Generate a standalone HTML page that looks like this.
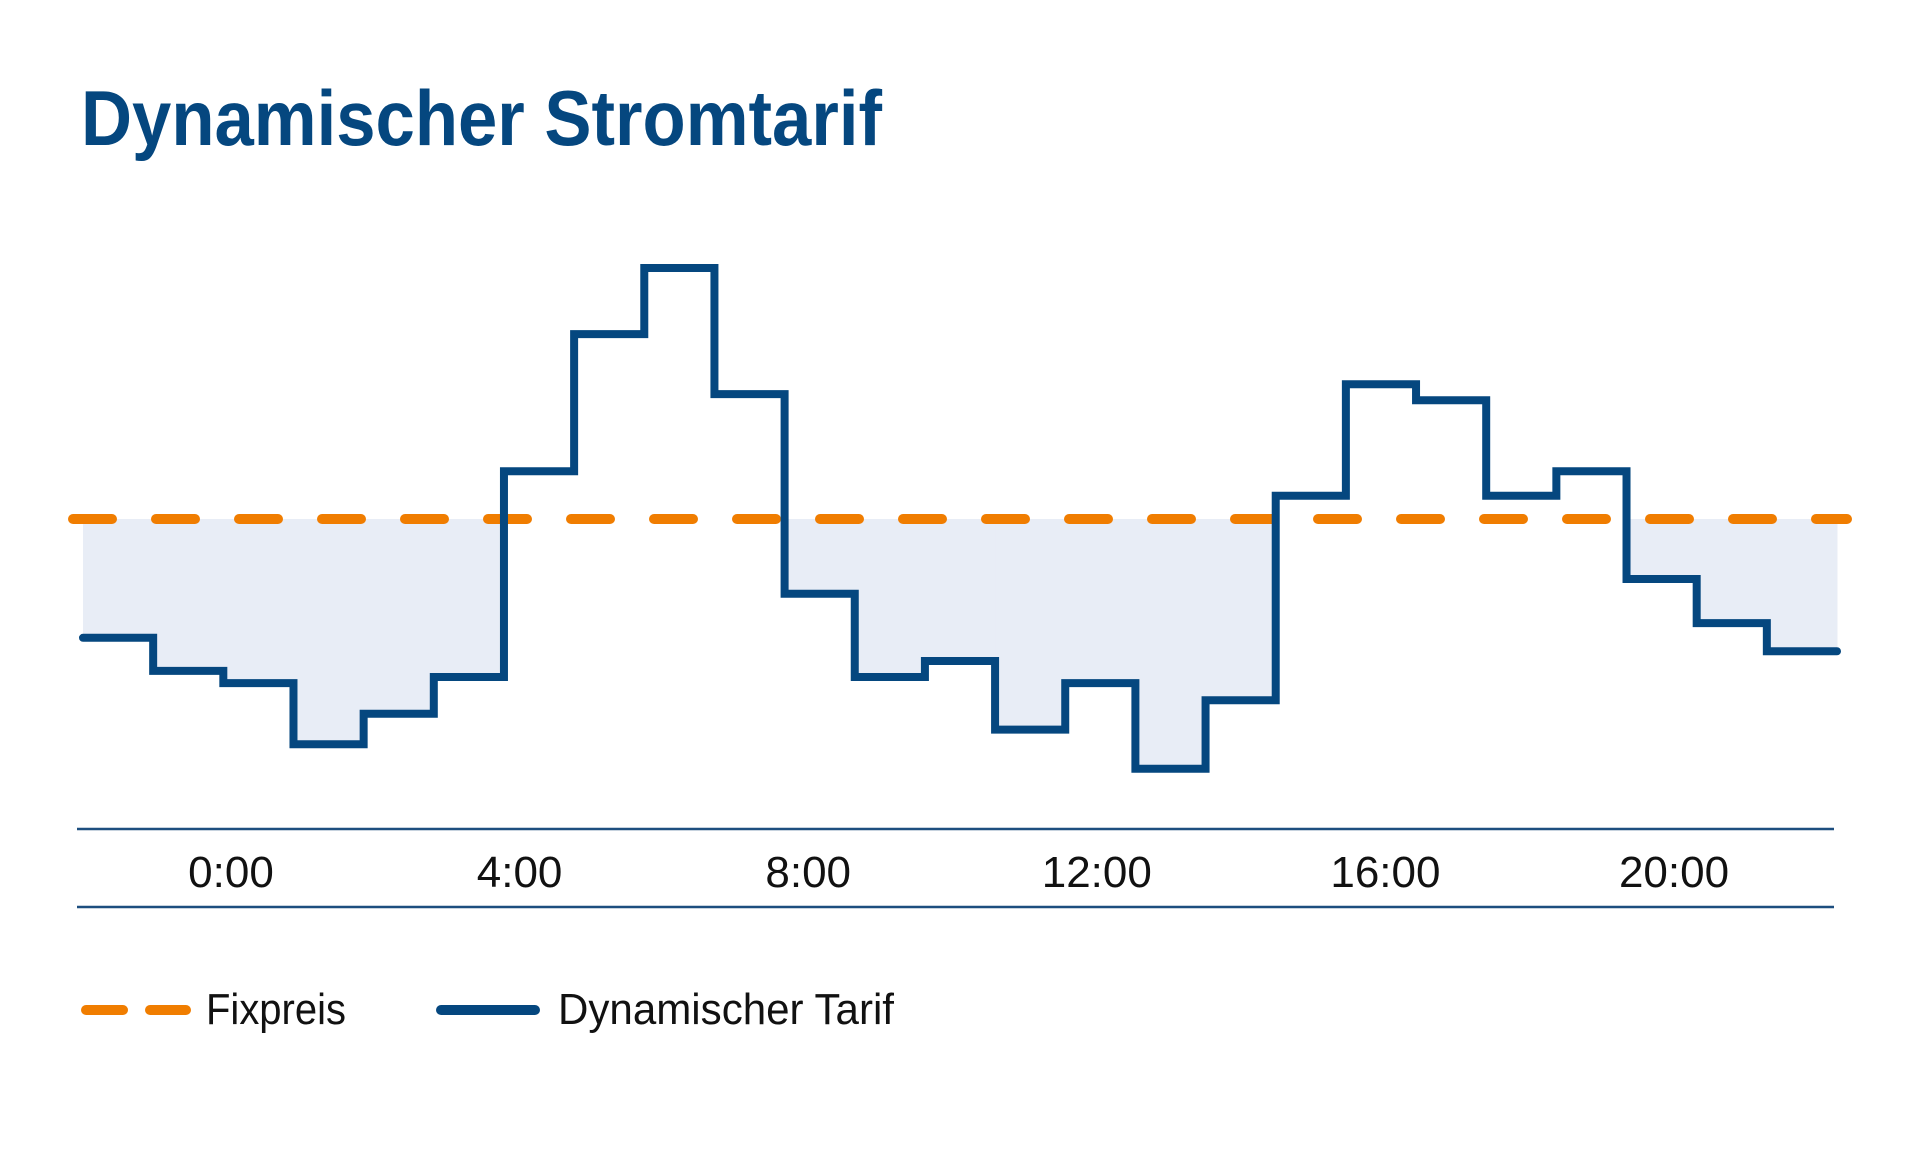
<!DOCTYPE html>
<html><head><meta charset="utf-8"><title>Dynamischer Stromtarif</title>
<style>
html,body{margin:0;padding:0;background:#fff;}
svg{display:block;}
text{font-family:"Liberation Sans",sans-serif;}
</style></head>
<body>
<svg id="chart" width="1920" height="1164" viewBox="0 0 1920 1164" xmlns="http://www.w3.org/2000/svg">
  <text x="81" y="145" font-size="78" font-weight="bold" fill="#05477f" textLength="801" lengthAdjust="spacingAndGlyphs">Dynamischer Stromtarif</text>
  <g id="fill-layer"></g>
  <g id="line-layer"></g>
  <line x1="77" y1="829" x2="1834" y2="829" stroke="#1d4e7f" stroke-width="2.5"/>
  <line x1="77" y1="907" x2="1834" y2="907" stroke="#1d4e7f" stroke-width="2.5"/>
  <g id="tick-layer"></g>
  <g>
    <g>
      <line x1="86" y1="1010" x2="186" y2="1010" stroke="#f07d00" stroke-width="10" stroke-linecap="round" stroke-dasharray="37,27"/>
      <text x="206" y="1024" font-size="44" fill="#111" textLength="140" lengthAdjust="spacingAndGlyphs">Fixpreis</text>
    </g>
    <g>
      <line x1="441" y1="1010" x2="535" y2="1010" stroke="#05477f" stroke-width="10" stroke-linecap="round"/>
      <text x="558" y="1024" font-size="44" fill="#111" textLength="336" lengthAdjust="spacingAndGlyphs">Dynamischer Tarif</text>
    </g>
  </g>
</svg>
<script>
const tariffValues = [20.3,17.6,16.6,11.6,14.1,17.1,33.9,45.1,50.5,40.2,23.9,17.1,18.4,12.8,16.6,9.6,15.2,31.9,41.0,39.7,31.9,33.9,25.1,21.5,19.2];
const fixedPrice = [30];
const tickHours = [0,4,8,12,16,20];
const tickLabels = ["0:00","4:00","8:00","12:00","16:00","20:00"];

const NS = "http://www.w3.org/2000/svg";
const X0 = 83, X1 = 1837;
const yScale = v => 519 - (v - 30) * 12.245;
const xStep = i => X0 + (X1 - X0) * i / tariffValues.length;
const xHour = h => 231 + (1674 - 231) * h / 20;

const fillLayer = document.getElementById('fill-layer');
const lineLayer = document.getElementById('line-layer');
const tickLayer = document.getElementById('tick-layer');
const fy = yScale(fixedPrice[0]);

tariffValues.forEach((v, i) => {
  const y = yScale(v);
  if (y > fy) {
    const r = document.createElementNS(NS, 'rect');
    r.setAttribute('x', xStep(i));
    r.setAttribute('y', fy);
    r.setAttribute('width', xStep(i + 1) - xStep(i) + 0.5);
    r.setAttribute('height', y - fy);
    r.setAttribute('fill', '#e8edf6');
    
    
    fillLayer.appendChild(r);
  }
});

const fixedLine = document.createElementNS(NS, 'line');
fixedLine.setAttribute('x1', X0 - 10);
fixedLine.setAttribute('x2', X1 + 10);
fixedLine.setAttribute('y1', fy);
fixedLine.setAttribute('y2', fy);
fixedLine.setAttribute('stroke', '#f07d00');
fixedLine.setAttribute('stroke-width', '10');
fixedLine.setAttribute('stroke-linecap', 'round');
fixedLine.setAttribute('stroke-dasharray', '39,44');


lineLayer.appendChild(fixedLine);

let d = '';
tariffValues.forEach((v, i) => {
  const y = yScale(v);
  d += (i === 0 ? 'M' : 'L') + xStep(i) + ',' + y + ' L' + xStep(i + 1) + ',' + y + ' ';
});
const path = document.createElementNS(NS, 'path');
path.setAttribute('d', d);
path.setAttribute('fill', 'none');
path.setAttribute('stroke', '#05477f');
path.setAttribute('stroke-width', '8');
path.setAttribute('stroke-linejoin', 'miter');
path.setAttribute('stroke-linecap', 'round');


lineLayer.appendChild(path);

tickHours.forEach((h, i) => {
  const t = document.createElementNS(NS, 'text');
  t.setAttribute('x', xHour(h));
  t.setAttribute('y', 887);
  t.setAttribute('text-anchor', 'middle');
  t.setAttribute('font-size', '44');
  t.setAttribute('fill', '#111');
  t.textContent = tickLabels[i];
  
  
  tickLayer.appendChild(t);
});
</script>
</body></html>
